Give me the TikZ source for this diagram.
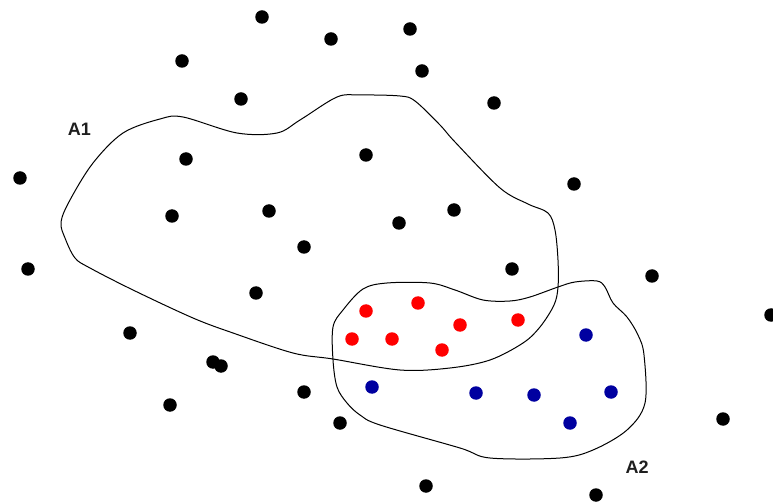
\documentclass[tikz,border=0pt]{standalone}
\usepackage{fontspec}
\setmainfont{Liberation Sans}
\definecolor{dotred}{RGB}{255,0,0}
\definecolor{dotblue}{RGB}{0,0,160}
\definecolor{lbl}{RGB}{30,30,30}
\begin{document}
\begin{tikzpicture}[x=1pt,y=-1pt,
  pt/.style={circle,fill=black,inner sep=0pt,minimum size=13.5pt},
  rpt/.style={pt,fill=dotred},
  bpt/.style={pt,fill=dotblue},
  region/.style={draw=black,line width=1pt},
  lab/.style={font=\bfseries\fontsize{18}{18}\selectfont,text=lbl,inner sep=0pt}]
\useasboundingbox (0,0) rectangle (773,502);
% region outlines
\draw[region] plot[smooth cycle,tension=0.55] coordinates {
 (61,222) (70,200) (93,163) (123,133) (160,119) (183,117) (237,133) (277,133)
 (300,120) (337,97) (360,95) (400,96) (415,101) (440,125) (455,142) (500,188)
 (528,204) (548,213) (555,230) (558,260) (558,287) (554,305) (540,327) (523,343)
 (490,360) (450,368) (400,370) (333,359) (293,353) (233,333) (193,318) (133,290)
 (90,268) (75,258) (65,238)};
\draw[region] plot[smooth cycle,tension=0.55] coordinates {
 (387,283) (430,283) (455,290) (483,300) (510,301) (530,297) (558,287) (575,282)
 (597,281) (605,287) (613,303) (627,317) (638,335) (644,355) (645,403) (627,430)
 (593,450) (560,458) (490,458) (460,448) (380,425) (360,415) (347,403) (337,387)
 (333,360) (333,327) (343,310) (363,289)};
% black points
\foreach \x/\y [count=\i] in {262/17,331/39,182/61,241/99,186/159,366/155,20/178,172/216,
  269/211,304/247,399/223,410/29,422/71,494/103,574/184,454/210,28/269,256/293,
  130/333,213/362,221/366,304/392,170/405,340/423,512/269,652/276,771/315,
  723/419,426/486,596/495}
  \node[pt] (k\i) at (\x,\y) {};
% red points
\foreach \x/\y [count=\i] in {366/311,352/339,392/339,418/303,460/325,518/320,442/350}
  \node[rpt] (r\i) at (\x,\y) {};
% blue points
\foreach \x/\y [count=\i] in {372/387,586/335,476/393,534/395,611/392,570/423}
  \node[bpt] (b\i) at (\x,\y) {};
\node[lab] (A1) at (79.5,129.5) {A1};
\node[lab] (A2) at (637,467) {A2};
\end{tikzpicture}
\end{document}
